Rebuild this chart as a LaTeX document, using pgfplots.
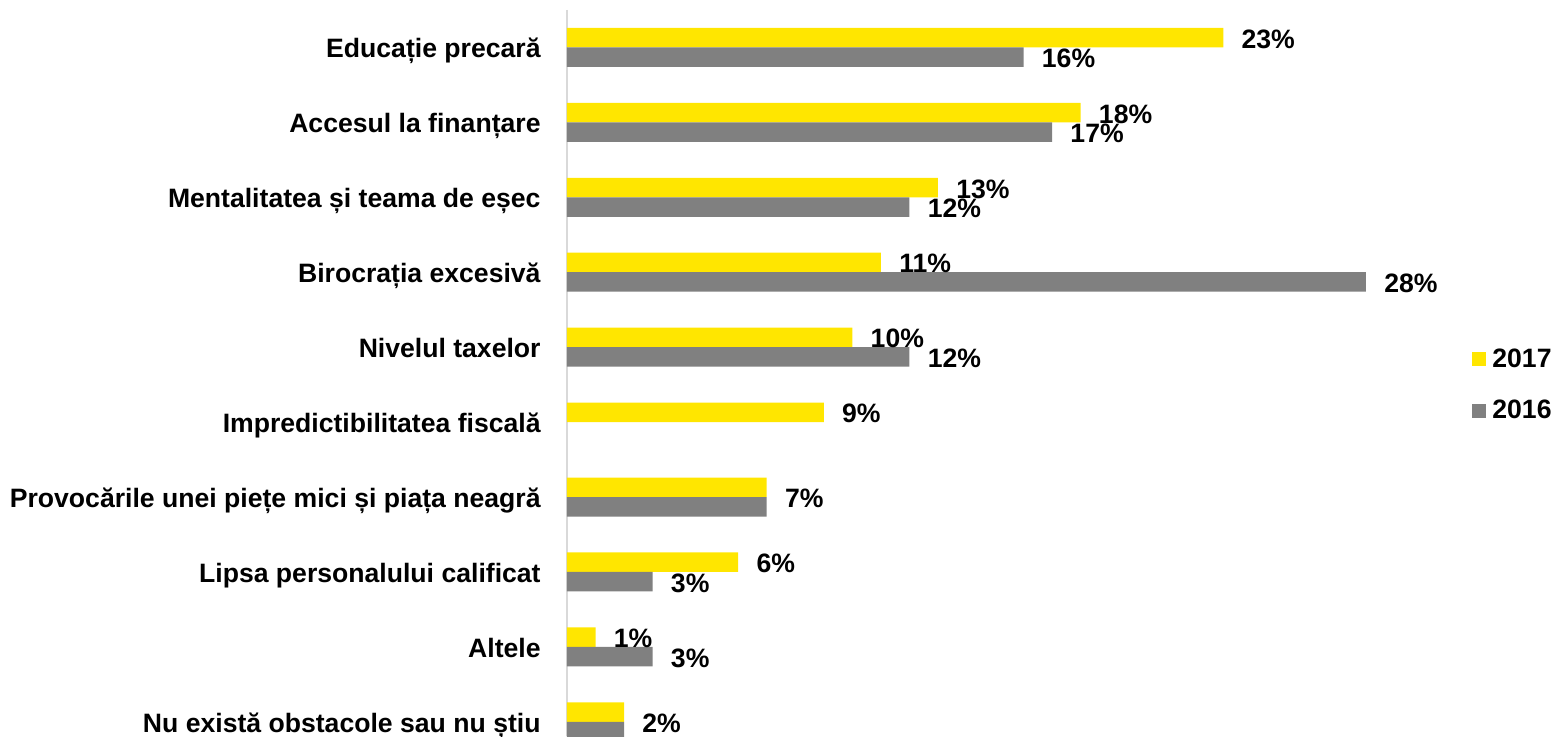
\documentclass[border=0pt]{standalone}
\usepackage{pgfplots}
\pgfplotsset{compat=1.18}
\usepackage{fontspec}
\setmainfont{Liberation Sans}
\definecolor{eyyellow}{HTML}{FFE600}
\definecolor{eygray}{HTML}{808080}
\definecolor{axisgray}{HTML}{D9D9D9}
\newcommand\lbl{\fontsize{13.3}{16}\selectfont\bfseries}
\begin{document}
\begin{tikzpicture}
\begin{axis}[
  name=ax,
  scale only axis,
  width=428pt, height=363pt,
  xmin=0, xmax=30,
  ymin=-0.5, ymax=9.19,
  y dir=reverse,
  axis x line=none,
  axis y line*=left,
  y axis line style={draw=axisgray, line width=1pt, -},
  ytick={0,...,9},
  yticklabels={{Educație precară},{Accesul la finanțare},{Mentalitatea și teama de eșec},{Birocrația excesivă},{Nivelul taxelor},{Impredictibilitatea fiscală},{Provocările unei piețe mici și piața neagră},{Lipsa personalului calificat},{Altele},{Nu există obstacole sau nu știu}},
  ytick style={draw=none},
  yticklabel style={font=\lbl, inner sep=0pt, xshift=-13pt, yshift=-0.5pt, text height=9.5pt, text depth=0pt},
  bar width=9.75pt,
  point meta=explicit symbolic,
  nodes near coords,
  every node near coord/.append style={font=\lbl, anchor=west, inner sep=0pt, xshift=9pt, text height=9.5pt, text depth=0pt},
  legend style={at={(1,0.5)}, anchor=west, xshift=21.5pt, yshift=-6pt, draw=none, fill=none, font=\lbl, row sep=15pt, column sep=3pt, nodes={inner sep=0pt}},
  legend image code/.code={\fill[#1] (0pt,-3.5pt) rectangle (7pt,3.5pt);},
  legend cell align=left,
]
\addplot[xbar, bar shift=4.875pt, fill=eyyellow, draw=none,
  every node near coord/.append style={yshift=4.375pt}] coordinates {
  (23,0) [23\%] (18,1) [18\%] (13,2) [13\%] (11,3) [11\%] (10,4) [10\%]
  (9,5) [9\%] (7,6) [] (6,7) [6\%] (1,8) [1\%] (2,9) []
};
\addplot[xbar, bar shift=-4.875pt, fill=eygray, draw=none,
  every node near coord/.append style={yshift=-5.375pt}] coordinates {
  (16,0) [16\%] (17,1) [17\%] (12,2) [12\%] (28,3) [28\%] (12,4) [12\%]
  (7,6) [] (3,7) [3\%] (3,8) [3\%] (2,9) []
};
% shared labels where both years are equal
\addplot[only marks, mark=none, forget plot,
  every node near coord/.append style={yshift=-0.5pt}] coordinates {(7,6) [7\%] (2,9) [2\%]};
\legend{2017,2016}
\end{axis}
\pgfresetboundingbox
\path[use as bounding box] ([xshift=-283.5pt]ax.south west) rectangle ([xshift=65.5pt,yshift=5pt]ax.north east);
\end{tikzpicture}
\end{document}
